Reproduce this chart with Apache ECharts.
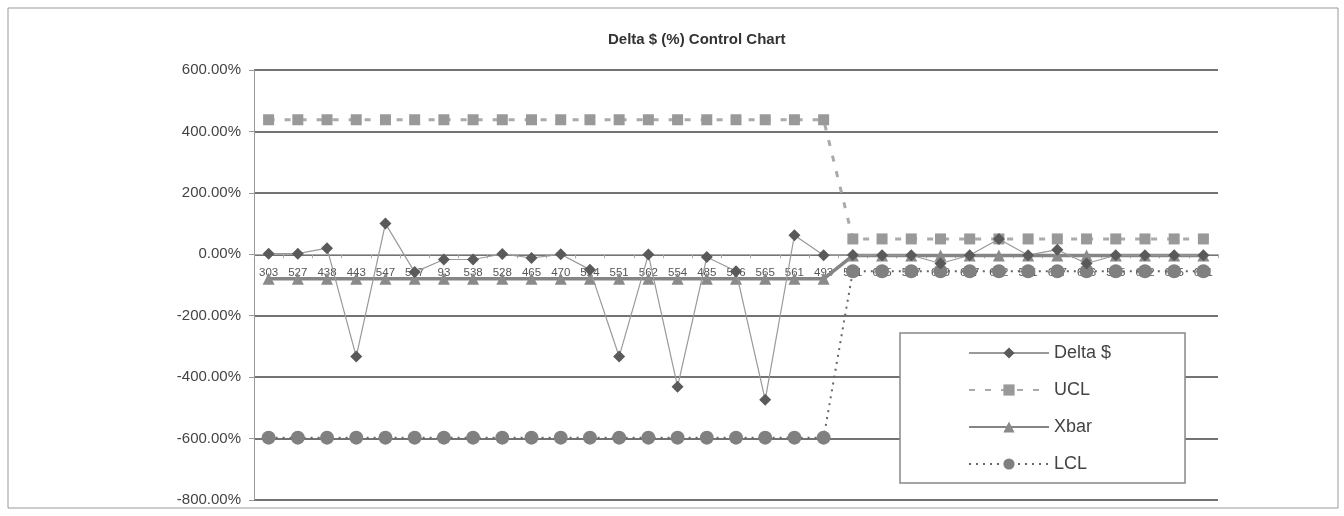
<!DOCTYPE html>
<html>
<head>
<meta charset="utf-8">
<script src="https://cdn.jsdelivr.net/npm/echarts@6/dist/echarts.min.js"></script>
<style>
html,body{margin:0;padding:0;background:#fff;}
#chart{width:1344px;height:516px;}
</style>
</head>
<body>
<div id="chart"></div>
<script>
var categories = ['303','527','438','443','547','517','93','538','528','465','470','524','551','562','554','485','556','565','561','493',
                  '591','645','587','619','647','682','591','687','686','585','642','645','661'];
var deltaValues = [2, 2, 20, -333, 100, -58, -17, -17, 1, -12, 0, -50, -333, -1, -431, -9, -55, -474, 62, -3,
                   -2, -3, -3, -30, -3, 50, -3, 15, -30, -3, -3, -3, -3];
var uclValues = [438,438,438,438,438,438,438,438,438,438,438,438,438,438,438,438,438,438,438,438,
                 50,50,50,50,50,50,50,50,50,50,50,50,50];
var xbarValues = [-80,-80,-80,-80,-80,-80,-80,-80,-80,-80,-80,-80,-80,-80,-80,-80,-80,-80,-80,-80,
                  -4,-4,-4,-4,-4,-4,-4,-4,-4,-4,-4,-4,-4];
var lclValues = [-597,-597,-597,-597,-597,-597,-597,-597,-597,-597,-597,-597,-597,-597,-597,-597,-597,-597,-597,-597,
                 -55,-55,-55,-55,-55,-55,-55,-55,-55,-55,-55,-55,-55];
var yTicks = {min: -800, max: 600, interval: 200};

var gridTop = 70, gridBottomPx = 500;
var zeroY = gridTop + (yTicks.max / (yTicks.max - yTicks.min)) * (gridBottomPx - gridTop);

var chart = echarts.init(document.getElementById('chart'));
chart.setOption({
  animation: false,
  backgroundColor: '#fff',
  title: {
    text: 'Delta $ (%) Control Chart',
    left: 603, top: 27,
    textStyle: {fontFamily: 'Liberation Sans, Arial', fontSize: 15, fontWeight: 'bold', color: '#333'}
  },
  graphic: [{
    type: 'rect', shape: {x: 8, y: 8, width: 1330, height: 500},
    style: {fill: 'none', stroke: '#999', lineWidth: 1}, silent: true, z: -1
  }],
  grid: {left: 254, right: 126, top: gridTop, bottom: 516 - gridBottomPx},
  legend: {
    orient: 'vertical',
    left: 900, top: 333,
    padding: [11, 74, 10, 68],
    itemWidth: 80, itemHeight: 14, itemGap: 19,
    borderColor: '#888', borderWidth: 1.5,
    backgroundColor: '#fff',
    textStyle: {fontFamily: 'Liberation Sans, Arial', fontSize: 18, color: '#444'},
    data: ['Delta $', 'UCL', 'Xbar', 'LCL']
  },
  xAxis: [{
    type: 'category',
    data: categories,
    boundaryGap: true,
    axisLine: {onZero: true, lineStyle: {color: '#aaa', width: 1}},
    axisTick: {show: true, length: 4, lineStyle: {color: '#aaa'}},
    axisLabel: {show: false},
    splitLine: {show: false}
  }, {
    type: 'category',
    data: categories,
    position: 'bottom',
    offset: -(gridBottomPx - zeroY),
    boundaryGap: true,
    axisLine: {show: false, onZero: false},
    axisTick: {show: false},
    axisLabel: {interval: 0, margin: 13, fontFamily: 'Liberation Sans, Arial', fontSize: 11.5, color: '#555'},
    splitLine: {show: false}
  }],
  yAxis: {
    type: 'value',
    min: yTicks.min, max: yTicks.max, interval: yTicks.interval,
    axisLine: {show: true, lineStyle: {color: '#999', width: 1}},
    axisTick: {show: true, length: 5, lineStyle: {color: '#999'}},
    axisLabel: {
      fontFamily: 'Liberation Sans, Arial', fontSize: 15, color: '#444', margin: 13,
      formatter: function (v) { return v.toFixed(2) + '%'; }
    },
    splitLine: {show: true, lineStyle: {color: '#444', width: 1.6}}
  },
  series: [
    {
      name: 'LCL', type: 'line', data: lclValues,
      symbol: 'circle', symbolSize: 14,
      itemStyle: {color: '#808080'},
      lineStyle: {color: '#666', width: 2, type: [2, 5]},
      z: 2
    },
    {
      name: 'Xbar', type: 'line', data: xbarValues,
      symbol: 'triangle', symbolSize: 12,
      itemStyle: {color: '#8a8a8a'},
      lineStyle: {color: '#858585', width: 3.5},
      z: 3
    },
    {
      name: 'UCL', type: 'line', data: uclValues,
      symbol: 'rect', symbolSize: 11,
      itemStyle: {color: '#999'},
      lineStyle: {color: '#aaa', width: 3, type: [6, 10]},
      z: 4
    },
    {
      name: 'Delta $', type: 'line', data: deltaValues,
      symbol: 'diamond', symbolSize: 12,
      itemStyle: {color: '#5a5a5a'},
      lineStyle: {color: '#999', width: 1.2},
      z: 5
    }
  ]
});
</script>
</body>
</html>
